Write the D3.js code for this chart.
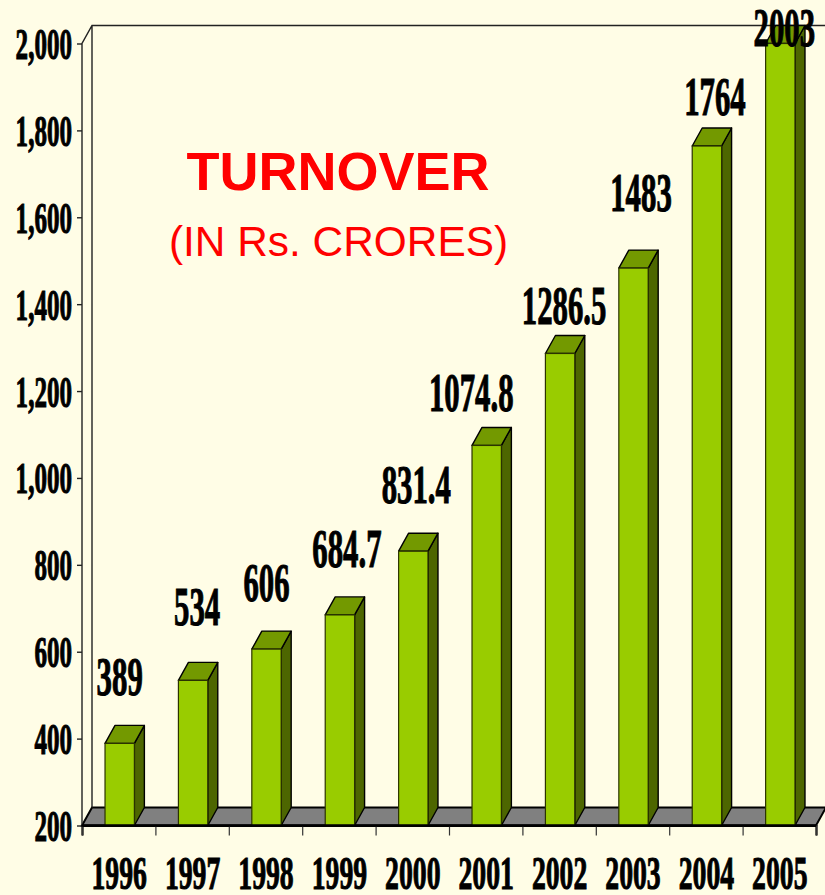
<!DOCTYPE html>
<html><head><meta charset="utf-8">
<style>html,body{margin:0;padding:0;background:#FFFDE6;overflow:hidden}svg{display:block}</style>
<script src="https://cdnjs.cloudflare.com/ajax/libs/d3/7.8.5/d3.min.js"></script></head>
<body><svg id="c" width="825" height="895"></svg>
<script>
const years=["1996","1997","1998","1999","2000","2001","2002","2003","2004","2005"];
const turnover=[389,534,606,684.7,831.4,1074.8,1286.5,1483,1764,2003];
const valueLabels=["389","534","606","684.7","831.4","1074.8","1286.5","1483","1764","2003"];
const yTicks=[200,400,600,800,1000,1200,1400,1600,1800,2000];
// hand-placed label offsets in the original (dx from bar centre, dy above bar top)
const labelDx=[0,4,0,7,3,-15.5,4,7.5,8,4];
const labelDy=[48,55,48,48,48,34,29,57,31,-2];

const svg=d3.select("#c");
const serif="'Liberation Serif',serif", sans="'Liberation Sans',Arial,sans-serif";
const y=d3.scaleLinear().domain([200,2000]).range([825.5,43.5]);
const x=d3.scaleBand().domain(years).range([83,817]).paddingInner(.6).paddingOuter(.3);
const slots=d3.scaleLinear().domain([0,10]).range([82,816]);
const dx=10,dy=18;
const ink="#000";

function heavy(sel,fs){
  sel.attr("font-family",serif).attr("font-weight",700).attr("font-size",fs)
     .attr("fill",ink).attr("stroke",ink).attr("stroke-width",1.1);
}
// floor
const y0=y(200);
svg.append("path").attr("d",`M82,${y0}L${82+dx},${y0-dy}L${816+dx},${y0-dy}L816,${y0}Z`)
  .attr("fill","#808080").attr("stroke",ink).attr("stroke-width",2);
// walls
svg.append("path").attr("d",`M82,${y0}L82,${y(2000)}L${82+dx},${y(2000)-dy}L825,${y(2000)-dy}M${82+dx},${y(2000)-dy}L${82+dx},${y0-dy}`)
  .attr("fill","none").attr("stroke","#222").attr("stroke-width",1.4);

// axes
const ya=svg.append("g").attr("transform","translate(82,0)")
  .call(d3.axisLeft(y).tickValues(yTicks).tickSize(5).tickPadding(0).tickFormat(d3.format(",")));
ya.select(".domain").remove();
ya.selectAll("line").attr("stroke","#222").attr("stroke-width",1.4);
ya.selectAll("text").call(heavy,44).attr("text-anchor","end").attr("dy",null)
  .attr("transform","translate(-10,15) scale(.57,1)").attr("x",0).attr("y",0);

const xa=svg.append("g").attr("transform",`translate(0,${y0})`)
  .call(d3.axisBottom(slots).tickValues(d3.range(11)).tickSize(10).tickFormat(""));
xa.select(".domain").attr("stroke",ink).attr("stroke-width",2.2);
xa.selectAll("line").attr("stroke","#333").attr("stroke-width",1.2);

svg.append("g").selectAll("text").data(years).join("text").text(d=>d)
  .call(heavy,47).attr("text-anchor","middle")
  .attr("transform",d=>`translate(${x(d)+x.bandwidth()/2-.5},889) scale(.59,1)`);

// bars
const bars=svg.append("g").selectAll("g").data(years.map((yr,i)=>({yr,v:turnover[i],i}))).join("g");
const barTop=d=>y(Math.min(d.v,2000));
bars.append("path").attr("d",d=>{const a=x(d.yr)+x.bandwidth();return `M${a},${y0}L${a+dx},${y0-dy}L${a+dx},${barTop(d)-dy}L${a},${barTop(d)}Z`})
  .attr("fill","#4D6600").attr("stroke",ink).attr("stroke-width",1.4).attr("stroke-linejoin","round");
bars.append("path").attr("d",d=>{const a=x(d.yr),b=a+x.bandwidth(),t=barTop(d);return `M${a},${t}L${a+dx},${t-dy}L${b+dx},${t-dy}L${b},${t}Z`})
  .attr("fill","#739900").attr("stroke",ink).attr("stroke-width",1.4).attr("stroke-linejoin","round");
bars.append("rect").attr("x",d=>x(d.yr)).attr("width",x.bandwidth()).attr("y",barTop).attr("height",d=>y0-barTop(d))
  .attr("fill","#99CC00").attr("stroke","#2b3300").attr("stroke-width",1.2);
svg.append("line").attr("x1",82).attr("x2",816).attr("y1",y0).attr("y2",y0).attr("stroke",ink).attr("stroke-width",2.4);

// value labels
svg.append("g").selectAll("text").data(valueLabels).join("text").text(d=>d)
  .call(heavy,54).attr("text-anchor","middle")
  .attr("transform",(d,i)=>`translate(${x(years[i])+x.bandwidth()/2+labelDx[i]},${barTop({v:turnover[i]})-labelDy[i]}) scale(.57,1)`);

// title
svg.append("text").text("TURNOVER").attr("x",338).attr("y",190).attr("text-anchor","middle")
  .attr("font-family",sans).attr("font-weight",700).attr("font-size",54).attr("fill","#FF0000");
svg.append("text").text("(IN Rs. CRORES)").attr("x",338.5).attr("y",256).attr("text-anchor","middle")
  .attr("font-family",sans).attr("font-size",42.4).attr("fill","#FF0000");
</script></body></html>
